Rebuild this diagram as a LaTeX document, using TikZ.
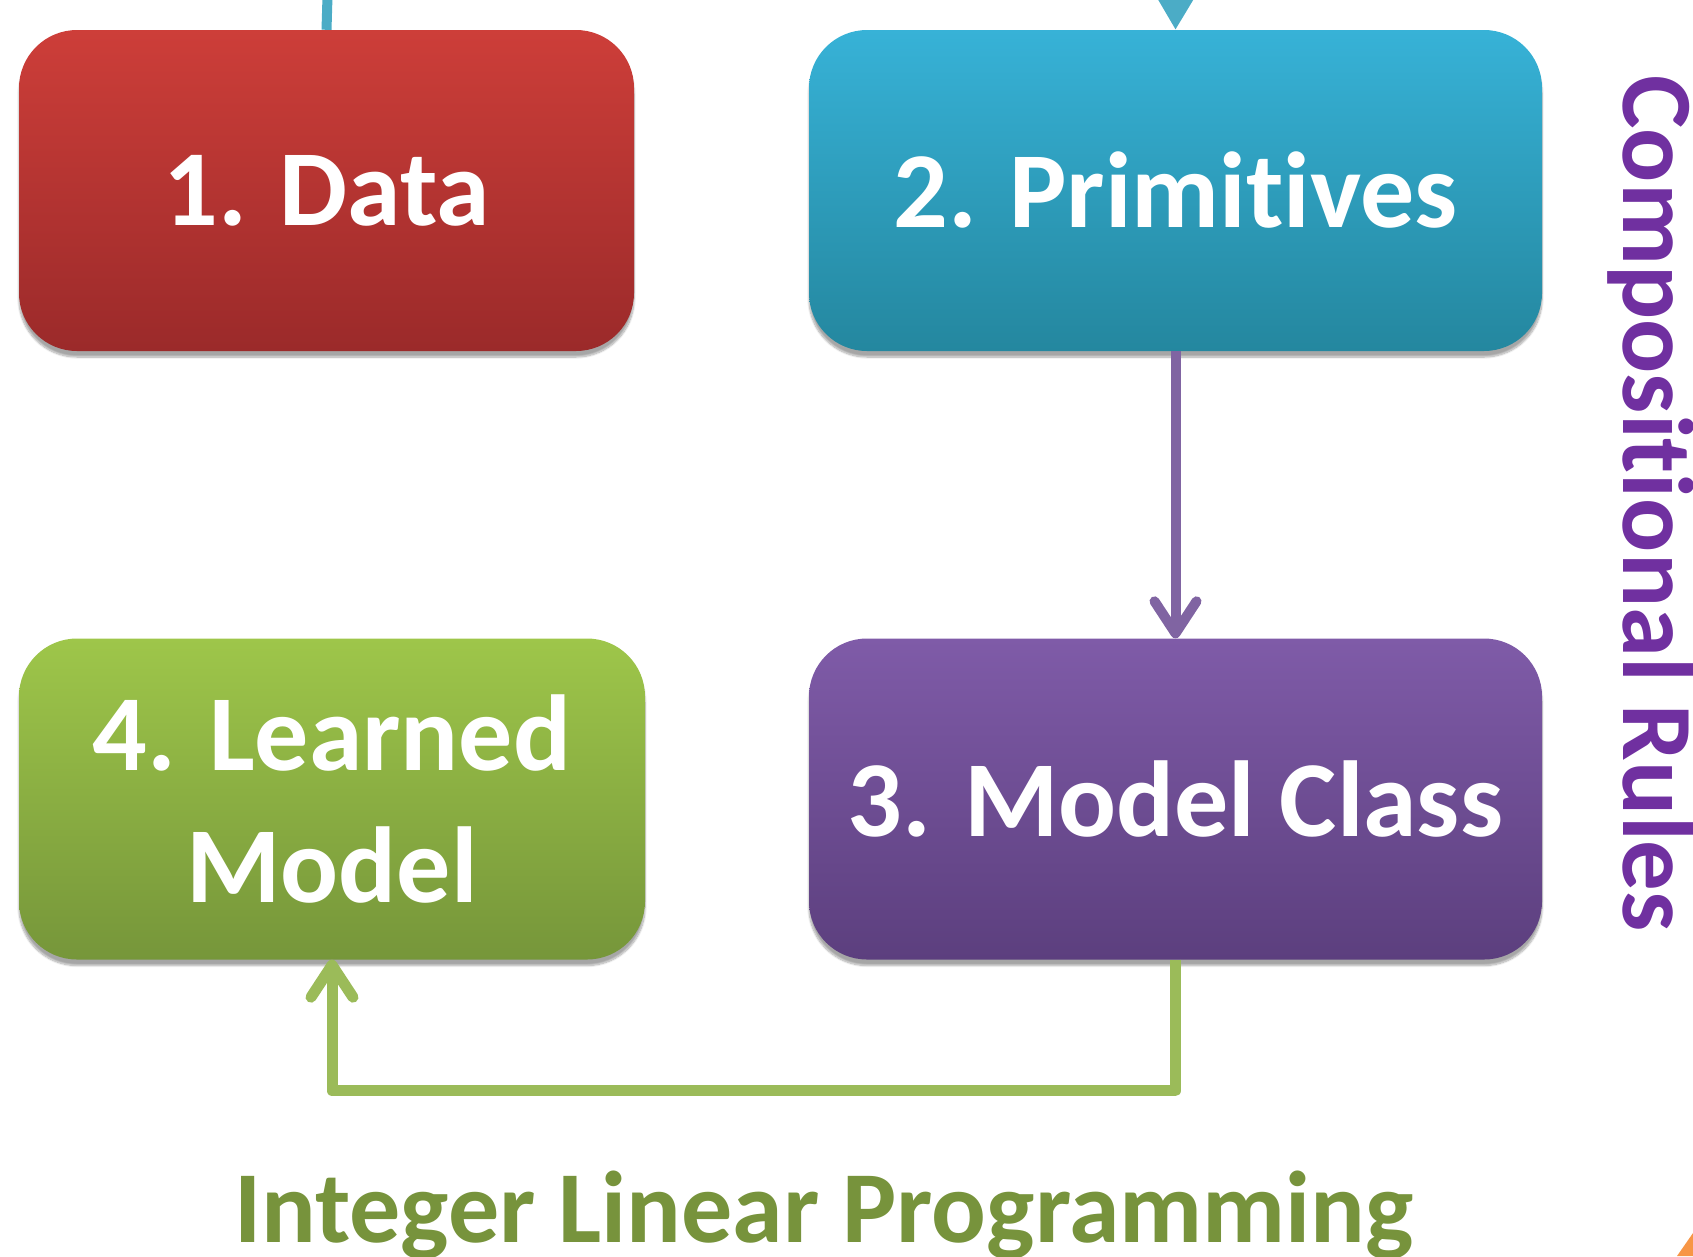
\documentclass[tikz,border=0pt]{standalone}
\usepackage{fontspec}
\setmainfont{Carlito}[Ligatures=NoCommon]
\usetikzlibrary{arrows.meta,shadows.blur}

% box gradients (top / bottom)
\definecolor{dataTop}{HTML}{CD3E39}
\definecolor{dataBot}{HTML}{9B2A2A}
\definecolor{primTop}{HTML}{37B2D7}
\definecolor{primBot}{HTML}{24879F}
\definecolor{classTop}{HTML}{7F5BA8}
\definecolor{classBot}{HTML}{5C3F7E}
\definecolor{learnTop}{HTML}{9EC64A}
\definecolor{learnBot}{HTML}{76963A}
% lines and labels
\definecolor{feedCyan}{HTML}{4BACC6}
\definecolor{ruleLine}{HTML}{8064A2}
\definecolor{ilpLine}{HTML}{9BBB59}
\definecolor{ruleText}{HTML}{7030A0}
\definecolor{ilpText}{HTML}{77933C}
\definecolor{cornerOrange}{HTML}{F79646}

\tikzset{
  stage/.style={rectangle, rounded corners=58pt, inner sep=0pt, align=center,
    minimum height=321pt, text=white,
    font=\fontsize{108}{132}\selectfont\bfseries,
    blur shadow={shadow xshift=0pt, shadow yshift=-6pt, shadow blur steps=10, shadow opacity=35}},
  link/.style={-{Straight Barb[length=32pt, width=42pt, round]}},
  sidelabel/.style={inner sep=0pt},
}

\begin{document}
\begin{tikzpicture}[x=1pt, y=-1pt]

\useasboundingbox (0,0) rectangle (1693,1256);
\clip (0,0) rectangle (1693,1256);

% the four stages
\node[stage, minimum width=615pt, top color=dataTop, bottom color=dataBot] (data) at (326.5,190.5) {1. Data};
\node[stage, minimum width=733pt, top color=primTop, bottom color=primBot] (prim) at (1175.5,190.5) {2. Primitives};
\node[stage, minimum width=733pt, top color=classTop, bottom color=classBot] (class) at (1175.5,799) {3. Model Class};
\node[stage, minimum width=626pt, top color=learnTop, bottom color=learnBot] (learned) at (332,799) {4. Learned\\Model};

% incoming lines from above
\coordinate (dataIn) at (328,-20);
\coordinate (primIn) at (1176,-60);
\draw[feedCyan, line width=10pt] (dataIn) -- (data.north);
\draw[feedCyan, line width=10pt, -{Triangle[length=50pt, width=56pt]}] (primIn) -- (prim.north);

% primitives -> model class -> learned model
\draw[link, ruleLine, line width=10pt] (prim.south) -- (class.north);
\draw[link, ilpLine, line width=11pt, line join=round] (class.south) -- ++(0,131) -| (learned.south);

% side labels
\node[sidelabel, text=ruleText, font=\fontsize{101}{120}\selectfont\bfseries, rotate=-90, anchor=base] (rules) at (1623,503.5) {Compositional Rules};
\node[sidelabel, text=ilpText, font=\fontsize{102}{120}\selectfont\bfseries, anchor=base] (ilp) at (824,1242) {Integer Linear Programming};

% corner of the next shape
\fill[cornerOrange] (1677,1256) -- (1693,1233) -- (1693,1256) -- cycle;

\end{tikzpicture}
\end{document}
